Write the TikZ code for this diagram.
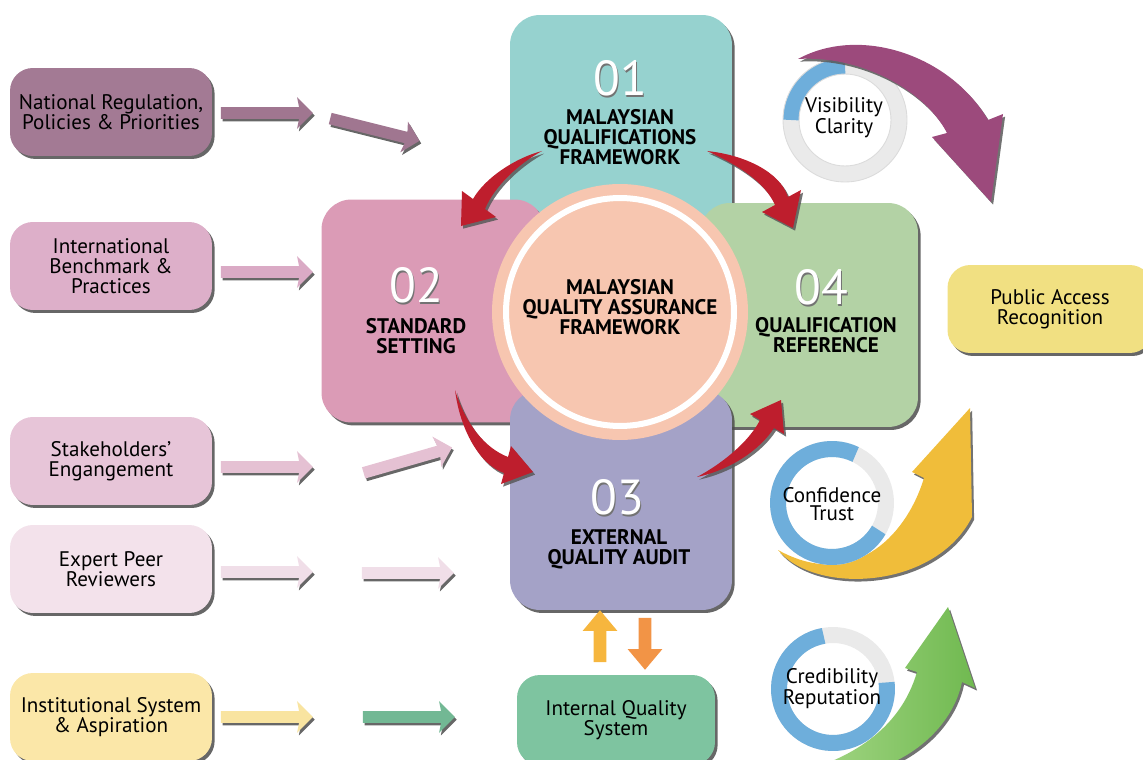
\documentclass[tikz,border=0pt]{standalone}
\usepackage{fontspec}
\setmainfont{PT Sans}
\usepackage{tikz}
\usetikzlibrary{shapes,arrows,shadows,calc}

\definecolor{natreg}{RGB}{163,122,148}
\definecolor{intlbm}{RGB}{221,175,201}
\definecolor{stakeh}{RGB}{231,197,216}
\definecolor{expert}{RGB}{243,226,235}
\definecolor{instsys}{RGB}{251,231,168}
\definecolor{rowa}{RGB}{160,118,144}
\definecolor{rowb}{RGB}{218,170,197}
\definecolor{rowc}{RGB}{229,193,211}
\definecolor{rowd}{RGB}{240,222,232}
\definecolor{rowe}{RGB}{249,228,160}
\definecolor{rowf}{RGB}{114,184,148}
\definecolor{mqfteal}{RGB}{150,210,207}
\definecolor{stdpink}{RGB}{219,155,182}
\definecolor{qrgreen}{RGB}{179,210,165}
\definecolor{eqapurple}{RGB}{164,162,199}
\definecolor{mqapeach}{RGB}{247,198,176}
\definecolor{iqsgreen}{RGB}{126,196,160}
\definecolor{pubyellow}{RGB}{241,224,130}
\definecolor{swred}{RGB}{190,30,45}
\definecolor{swmagenta}{RGB}{156,74,124}
\definecolor{swyellow}{RGB}{240,189,58}
\definecolor{swgreenlt}{RGB}{170,218,140}
\definecolor{swgreen}{RGB}{112,185,80}
\definecolor{ringgray}{RGB}{234,234,234}
\definecolor{ringblue}{RGB}{110,174,219}
\definecolor{upyellow}{RGB}{246,182,62}
\definecolor{downorange}{RGB}{242,148,70}

\begin{document}
\begin{tikzpicture}[x=0.02cm,y=-0.02cm,
  sidebox/.style={rounded corners=13pt,minimum width=4.04cm,minimum height=1.76cm,
    align=center,font=\fontsize{12}{11.2}\selectfont,
    drop shadow={shadow xshift=1.5pt,shadow yshift=-1.7pt,fill=black!70,opacity=.85}},
  bigbox/.style={rounded corners=17pt,
    drop shadow={shadow xshift=1.5pt,shadow yshift=-1.7pt,fill=black!70,opacity=.85}},
  blockarrow/.style={single arrow,minimum height=1.84cm,inner xsep=0pt,inner ysep=0.11cm,
    single arrow head extend=0.2cm,single arrow head indent=0.04cm,
    drop shadow={shadow xshift=1pt,shadow yshift=-1.5pt,fill=black!70,opacity=.85}},
  updown/.style={single arrow,minimum height=1.04cm,inner xsep=0pt,inner ysep=0.12cm,
    single arrow head extend=0.22cm,single arrow tip angle=80},
  numlabel/.style={font=\fontsize{28}{28}\selectfont,text=white,inner sep=0pt},
  numshadow/.style={font=\fontsize{28}{28}\selectfont,text=black!55,inner sep=0pt},
  title/.style={font=\bfseries\fontsize{12}{11.3}\selectfont,align=center,inner sep=0pt},
  ringtext/.style={font=\fontsize{12}{10.5}\selectfont,align=center},
  ring/.style={ringgray,line width=0.32cm},
  ringpart/.style={ringblue,line width=0.32cm},
  ringedge/.style={black!14,line width=0.5pt},
  swoosh/.style={drop shadow={shadow xshift=1.2pt,shadow yshift=-1.5pt,fill=black!65,opacity=.85}}]

\useasboundingbox (0,0) rectangle (1143,760);

\node[sidebox,fill=natreg] (natreg) at (111,112) {National Regulation,\\Policies \& Priorities};
\node[sidebox,fill=intlbm] (intlbm) at (111,266) {International\\Benchmark \&\\Practices};
\node[sidebox,fill=stakeh] (stakeh) at (111,461) {Stakeholders’\\Engangement};
\node[sidebox,fill=expert] (expert) at (111,569) {Expert Peer\\Reviewers};
\node[sidebox,fill=instsys] (instsys) at (111,717) {Institutional System\\\& Aspiration};

\foreach \y/\c in {113/rowa,272/rowb,467/rowc,572/rowd,717/rowe}
  \node[blockarrow,fill=\c] (ar\y) at (264,\y) {};
\node[blockarrow,fill=rowa,rotate=-14] (ar1b) at (372,129) {};
\node[blockarrow,fill=rowc,rotate=16] (ar3b) at (405,461) {};
\node[blockarrow,fill=rowd] (ar4b) at (405,573) {};
\node[blockarrow,fill=rowf] (ar5b) at (406,717) {};

\node[bigbox,fill=mqfteal,minimum width=4.44cm,minimum height=4.6cm] (mqf) at (621,130) {};
\node[bigbox,fill=stdpink,minimum width=4.46cm,minimum height=4.46cm] (std) at (433,311) {};
\node[bigbox,fill=qrgreen,minimum width=4.36cm,minimum height=4.48cm] (qref) at (809,315) {};
\node[bigbox,fill=eqapurple,minimum width=4.44cm,minimum height=4.4cm] (eqa) at (621,500) {};

\node[circle,fill=mqapeach,minimum size=5.12cm,inner sep=0pt] (mqa) at (620,312) {};
\draw[white,line width=0.12cm] (mqa.center) circle[radius=2.28cm];
\node[title] (tmqa) at (620,307) {MALAYSIAN\\QUALITY ASSURANCE\\FRAMEWORK};

\node[numshadow] (n01s) at (621.5,80) {01};
\node[numlabel] (n01) at (620,78) {01};
\node[title] (t01) at (620,137) {MALAYSIAN\\QUALIFICATIONS\\FRAMEWORK};
\node[numshadow] (n02s) at (417.5,287) {02};
\node[numlabel] (n02) at (416,285) {02};
\node[title] (t02) at (416,336) {STANDARD\\SETTING};
\node[numshadow] (n04s) at (822.5,289) {04};
\node[numlabel] (n04) at (821,287) {04};
\node[title] (t04) at (826,335) {QUALIFICATION\\REFERENCE};
\node[numshadow] (n03s) at (618.5,499) {03};
\node[numlabel] (n03) at (617,497) {03};
\node[title] (t03) at (619,549) {EXTERNAL\\QUALITY AUDIT};

\coordinate (sa) at (542,151);
\coordinate (sb) at (707,151);
\coordinate (sc) at (455,390);
\coordinate (sd) at (697,477);
\fill[swred,swoosh] (sa) .. controls (515,158) and (485,178) .. (473,199) -- (462,191) -- (461,226)
  -- (496,217) -- (485,209) .. controls (495,185) and (520,163) .. (sa) -- cycle;
\fill[swred,swoosh] (sb) .. controls (745,155) and (780,172) .. (788,197) -- (801,190) -- (793,228)
  -- (762,212) -- (775,205) .. controls (765,182) and (738,165) .. (sb) -- cycle;
\fill[swred,swoosh] (sc) .. controls (460,430) and (480,465) .. (504,473) -- (501,484) -- (533,472)
  -- (511,446) -- (508,457) .. controls (485,448) and (466,425) .. (sc) -- cycle;
\fill[swred,swoosh] (sd) .. controls (730,470) and (760,450) .. (774,428) -- (784,434) -- (781,400)
  -- (750,414) -- (760,420) .. controls (750,440) and (725,462) .. (sd) -- cycle;

\node[sidebox,fill=iqsgreen,minimum width=3.96cm,minimum height=1.8cm] (iqs) at (616,720) {Internal Quality\\System};
\node[updown,fill=upyellow,rotate=90] (up) at (600,640) {};
\node[updown,fill=downorange,rotate=-90] (down) at (645,640) {};

\node[sidebox,fill=pubyellow,minimum width=4.1cm] (pub) at (1050,309) {Public Access\\Recognition};

\coordinate (sy) at (778,550);
\coordinate (sg) at (790,775);
\fill[swyellow,swoosh] (sy) .. controls (815,595) and (935,590) .. (972,517) -- (970,408) -- (912,472)
  -- (924,478) .. controls (905,540) and (850,590) .. (sy) -- cycle;
\path[swoosh,left color=swgreenlt,right color=swgreen] (sg) .. controls (880,790) and (950,740) .. (962,682)
  -- (975,688) -- (948,607) -- (905,668) -- (917,672) .. controls (900,730) and (850,760) .. (sg) -- cycle;

\coordinate (visc) at (845,120);
\coordinate (confc) at (832,503);
\coordinate (credc) at (833,689);
\draw[ring] (visc) circle[radius=1.08cm];
\draw[ring] (confc) circle[radius=1.08cm];
\draw[ring] (credc) circle[radius=1.08cm];
\draw[ringpart] ([shift={(90:1.08cm)}]visc) arc[start angle=90,end angle=180,radius=1.08cm];
\draw[ringpart] ([shift={(64:1.08cm)}]confc) arc[start angle=64,end angle=330,radius=1.08cm];
\draw[ringpart] ([shift={(100:1.08cm)}]credc) arc[start angle=100,end angle=367,radius=1.08cm];
\draw[ringedge] (visc) circle[radius=1.24cm] (visc) circle[radius=0.92cm];
\node[ringtext] (vis) at (844,118) {Visibility\\Clarity};
\node[ringtext] (conf) at (832,504) {Confidence\\Trust};
\node[ringtext] (cred) at (832,689) {Credibility\\Reputation};

\coordinate (sm) at (798,59);
\fill[swmagenta,swoosh] (sm) .. controls (860,25) and (950,55) .. (988,120) -- (1003,114) -- (991,202)
  -- (932,137) -- (947,133) .. controls (925,90) and (860,55) .. (sm) -- cycle;

\end{tikzpicture}
\end{document}
